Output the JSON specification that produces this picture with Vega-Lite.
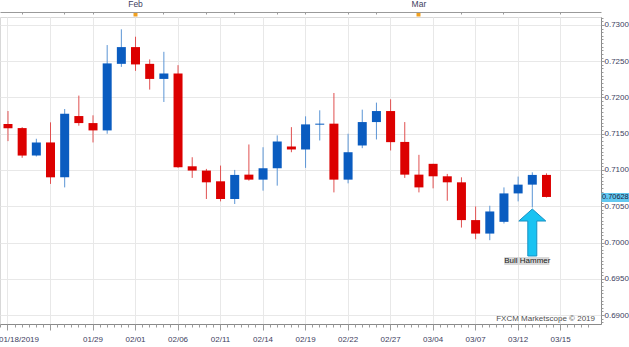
{
  "$schema": "https://vega.github.io/schema/vega-lite/v6.json",
  "width": 601,
  "height": 307,
  "autosize": {"type": "none"},
  "padding": {"left": 0, "top": 17, "right": 28, "bottom": 23},
  "background": "#ffffff",
  "config": {
    "view": {"stroke": "#d8d8d8"},
    "axis": {"labelFont": "Liberation Sans", "labelFontSize": 8, "labelColor": "#404060", "title": null, "domainColor": "#8a8a8a", "tickColor": "#9a9a9a", "gridColor": "#e8e8e8", "labelOverlap": false, "labelFlush": false, "labelBound": false}
  },
  "data": {"values": [
    {"date": "2019-01-21", "open": 0.71633, "high": 0.71813, "low": 0.71398, "close": 0.71576},
    {"date": "2019-01-22", "open": 0.71578, "high": 0.71591, "low": 0.71168, "close": 0.71199},
    {"date": "2019-01-23", "open": 0.71199, "high": 0.71431, "low": 0.71186, "close": 0.71380},
    {"date": "2019-01-24", "open": 0.71380, "high": 0.71657, "low": 0.70808, "close": 0.70899},
    {"date": "2019-01-25", "open": 0.70899, "high": 0.71841, "low": 0.70760, "close": 0.71777},
    {"date": "2019-01-28", "open": 0.71744, "high": 0.72026, "low": 0.71611, "close": 0.71647},
    {"date": "2019-01-29", "open": 0.71647, "high": 0.71754, "low": 0.71380, "close": 0.71546},
    {"date": "2019-01-30", "open": 0.71546, "high": 0.72723, "low": 0.71500, "close": 0.72470},
    {"date": "2019-01-31", "open": 0.72464, "high": 0.72940, "low": 0.72422, "close": 0.72695},
    {"date": "2019-02-01", "open": 0.72695, "high": 0.72838, "low": 0.72367, "close": 0.72456},
    {"date": "2019-02-04", "open": 0.72464, "high": 0.72525, "low": 0.72109, "close": 0.72256},
    {"date": "2019-02-05", "open": 0.72256, "high": 0.72630, "low": 0.71938, "close": 0.72331},
    {"date": "2019-02-06", "open": 0.72331, "high": 0.72446, "low": 0.71030, "close": 0.71037},
    {"date": "2019-02-07", "open": 0.71051, "high": 0.71176, "low": 0.70891, "close": 0.70992},
    {"date": "2019-02-08", "open": 0.70992, "high": 0.71015, "low": 0.70600, "close": 0.70830},
    {"date": "2019-02-11", "open": 0.70844, "high": 0.71061, "low": 0.70567, "close": 0.70600},
    {"date": "2019-02-12", "open": 0.70600, "high": 0.71001, "low": 0.70531, "close": 0.70932},
    {"date": "2019-02-13", "open": 0.70936, "high": 0.71352, "low": 0.70853, "close": 0.70867},
    {"date": "2019-02-14", "open": 0.70867, "high": 0.71314, "low": 0.70715, "close": 0.71024},
    {"date": "2019-02-15", "open": 0.71024, "high": 0.71477, "low": 0.70784, "close": 0.71393},
    {"date": "2019-02-18", "open": 0.71324, "high": 0.71591, "low": 0.71245, "close": 0.71283},
    {"date": "2019-02-19", "open": 0.71283, "high": 0.71740, "low": 0.71029, "close": 0.71629},
    {"date": "2019-02-20", "open": 0.71625, "high": 0.71823, "low": 0.71407, "close": 0.71639},
    {"date": "2019-02-21", "open": 0.71639, "high": 0.72062, "low": 0.70691, "close": 0.70867},
    {"date": "2019-02-22", "open": 0.70867, "high": 0.71500, "low": 0.70816, "close": 0.71245},
    {"date": "2019-02-25", "open": 0.71338, "high": 0.71832, "low": 0.71301, "close": 0.71661},
    {"date": "2019-02-26", "open": 0.71661, "high": 0.71929, "low": 0.71421, "close": 0.71813},
    {"date": "2019-02-27", "open": 0.71813, "high": 0.71975, "low": 0.71269, "close": 0.71384},
    {"date": "2019-02-28", "open": 0.71387, "high": 0.71661, "low": 0.70891, "close": 0.70936},
    {"date": "2019-03-01", "open": 0.70936, "high": 0.71209, "low": 0.70691, "close": 0.70760},
    {"date": "2019-03-04", "open": 0.71085, "high": 0.71085, "low": 0.70747, "close": 0.70913},
    {"date": "2019-03-05", "open": 0.70913, "high": 0.70946, "low": 0.70576, "close": 0.70830},
    {"date": "2019-03-06", "open": 0.70830, "high": 0.70899, "low": 0.70206, "close": 0.70309},
    {"date": "2019-03-07", "open": 0.70309, "high": 0.70497, "low": 0.70046, "close": 0.70123},
    {"date": "2019-03-08", "open": 0.70123, "high": 0.70507, "low": 0.70032, "close": 0.70428},
    {"date": "2019-03-11", "open": 0.70285, "high": 0.70760, "low": 0.70262, "close": 0.70677},
    {"date": "2019-03-12", "open": 0.70677, "high": 0.70909, "low": 0.70567, "close": 0.70798},
    {"date": "2019-03-13", "open": 0.70798, "high": 0.70968, "low": 0.70483, "close": 0.70932},
    {"date": "2019-03-14", "open": 0.70932, "high": 0.70954, "low": 0.70620, "close": 0.70628}
  ]},
  "layer": [
    {
      "mark": {"type": "rule", "strokeWidth": 1},
      "encoding": {
        "x": {
          "field": "date", "type": "ordinal",
          "scale": {
            "domain": ["2019-01-21","2019-01-22","2019-01-23","2019-01-24","2019-01-25","2019-01-28","2019-01-29","2019-01-30","2019-01-31","2019-02-01","2019-02-04","2019-02-05","2019-02-06","2019-02-07","2019-02-08","2019-02-11","2019-02-12","2019-02-13","2019-02-14","2019-02-15","2019-02-18","2019-02-19","2019-02-20","2019-02-21","2019-02-22","2019-02-25","2019-02-26","2019-02-27","2019-02-28","2019-03-01","2019-03-04","2019-03-05","2019-03-06","2019-03-07","2019-03-08","2019-03-11","2019-03-12","2019-03-13","2019-03-14","2019-03-15","2019-03-18","2019-03-19"],
            "paddingInner": 0, "paddingOuter": 0.206, "align": 0.155
          },
          "axis": {
            "orient": "bottom",
            "values": ["2019-01-21","2019-01-24","2019-01-29","2019-02-01","2019-02-06","2019-02-11","2019-02-14","2019-02-19","2019-02-22","2019-02-27","2019-03-04","2019-03-07","2019-03-12","2019-03-15"],
            "labelExpr": "datum.value == '2019-01-21' ? '01/18/2019' : (datum.value == '2019-01-24' ? '' : replace(substring(datum.value, 5), '-', '/'))",
            "labelAngle": 0, "bandPosition": 0.5, "grid": true, "tickSize": 6, "labelPadding": 5,
            "labelOffset": {"expr": "datum.value == '2019-01-21' ? 11 : 0"}
          }
        },
        "y": {
          "field": "low", "type": "quantitative",
          "scale": {"domain": [0.68876, 0.7311], "zero": false, "nice": false},
          "axis": {"orient": "right", "values": [0.69, 0.695, 0.7, 0.705, 0.71, 0.715, 0.72, 0.725, 0.73], "format": ".4f", "grid": true, "tickSize": 3, "labelPadding": 0}
        },
        "y2": {"field": "high"},
        "color": {"condition": {"test": "datum.close > datum.open", "value": "#5b95d5"}, "value": "#e05050"}
      }
    },
    {
      "mark": {"type": "bar", "size": 9},
      "encoding": {
        "x": {"field": "date", "type": "ordinal", "axis": {"orient": "bottom", "labels": false, "grid": false, "domain": false, "tickSize": 3, "bandPosition": 0.5}},
        "y": {"field": "open", "type": "quantitative", "axis": {"orient": "right", "labels": false, "grid": false, "domain": false, "tickSize": 2, "values": [0.689,0.6895,0.69,0.6905,0.691,0.6915,0.692,0.6925,0.693,0.6935,0.694,0.6945,0.695,0.6955,0.696,0.6965,0.697,0.6975,0.698,0.6985,0.699,0.6995,0.7,0.7005,0.701,0.7015,0.702,0.7025,0.703,0.7035,0.704,0.7045,0.705,0.7055,0.706,0.7065,0.707,0.7075,0.708,0.7085,0.709,0.7095,0.71,0.7105,0.711,0.7115,0.712,0.7125,0.713,0.7135,0.714,0.7145,0.715,0.7155,0.716,0.7165,0.717,0.7175,0.718,0.7185,0.719,0.7195,0.72,0.7205,0.721,0.7215,0.722,0.7225,0.723,0.7235,0.724,0.7245,0.725,0.7255,0.726,0.7265,0.727,0.7275,0.728,0.7285,0.729,0.7295,0.73,0.7305,0.731]}},
        "y2": {"field": "close"},
        "color": {"condition": {"test": "datum.close > datum.open", "value": "#0a5cc0"}, "value": "#dc0000"}
      }
    },
    {
      "data": {"values": [{"label": "arrow"}]},
      "mark": {"type": "point", "shape": "M0,-1 L0.574,-0.489 L0.191,-0.489 L0.191,1 L-0.191,1 L-0.191,-0.489 L-0.574,-0.489 Z", "size": 2209, "filled": true, "fill": "#19c3f2", "stroke": "#1790c4", "strokeWidth": 1, "opacity": 1},
      "encoding": {
        "x": {"datum": "2019-03-13", "type": "ordinal", "axis": {"orient": "bottom", "labels": false, "grid": false, "domain": false, "tickSize": 3, "bandPosition": 0}},
        "y": {"datum": 0.70138, "type": "quantitative", "axis": {"orient": "right", "values": [0.70628], "format": ".5f", "grid": false, "domain": false, "tickSize": 28, "tickWidth": 9, "tickColor": "#62c8f0", "labelPadding": -27.5, "labelFontSize": 7.4, "labelColor": "#1a1a40"}}
      }
    },
    {
      "data": {"values": [{"label": "box"}]},
      "mark": {"type": "bar", "size": 45, "xOffset": -5.5, "color": "#d9d9d9"},
      "encoding": {
        "x": {"datum": "2019-03-13", "type": "ordinal", "axis": {"orient": "top", "offset": 5, "values": ["2019-02-01", "2019-03-01"], "labelExpr": "datum.value == '2019-02-01' ? 'Feb' : 'Mar'", "labelAngle": 0, "bandPosition": 0.5, "grid": false, "domainColor": "#9a9a9a", "tickColor": "#f0a020", "tickSize": -4, "tickWidth": 4, "labelPadding": 7.5, "labelFontSize": 8.5}},
        "y": {"datum": 0.698, "type": "quantitative", "axis": null},
        "y2": {"datum": 0.6969}
      }
    },
    {
      "data": {"values": [{"label": "Bull Hammer"}]},
      "mark": {"type": "text", "font": "Liberation Sans", "fontSize": 8, "color": "#202020", "dx": -5, "baseline": "middle", "align": "center"},
      "encoding": {
        "x": {"datum": "2019-03-13", "type": "ordinal", "axis": {"orient": "top", "offset": 5, "labels": false, "grid": false, "domain": false, "tickSize": -2, "bandPosition": 0.5, "values": ["2019-01-22","2019-01-25","2019-01-29","2019-02-05","2019-02-08","2019-02-12","2019-02-15","2019-02-19","2019-02-22","2019-02-26","2019-03-06","2019-03-11","2019-03-15"]}},
        "y": {"datum": 0.69745, "type": "quantitative", "axis": null},
        "text": {"field": "label"}
      }
    },
    {
      "data": {"values": [{"label": "FXCM Marketscope © 2019"}]},
      "mark": {"type": "text", "font": "Liberation Sans", "fontSize": 8, "color": "#505050", "dx": 6, "baseline": "middle", "align": "right"},
      "encoding": {
        "x": {"datum": "2019-03-19", "type": "ordinal", "axis": null},
        "y": {"datum": 0.68945, "type": "quantitative", "axis": null},
        "text": {"field": "label"}
      }
    }
  ],
  "resolve": {"axis": {"x": "independent", "y": "independent"}}
}
